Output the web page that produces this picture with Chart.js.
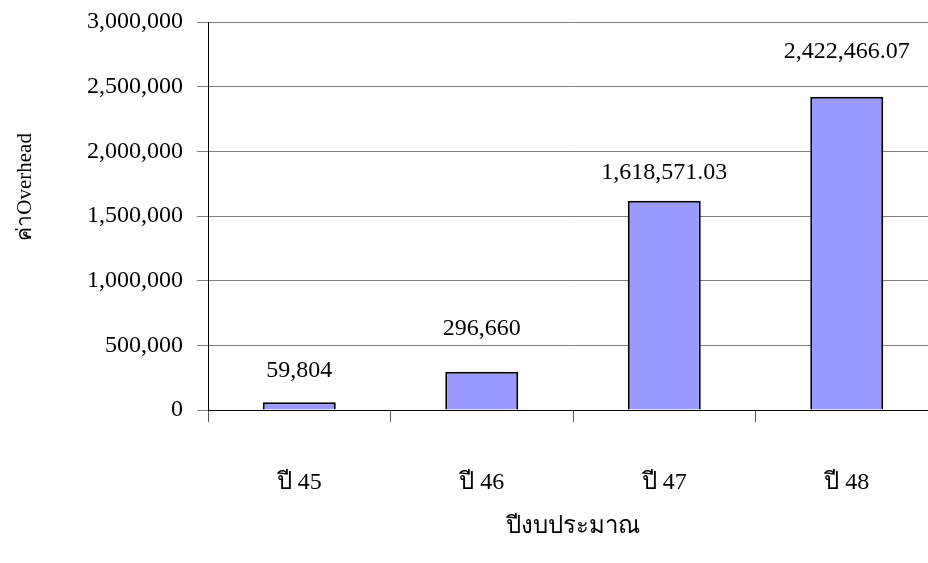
<!DOCTYPE html>
<html>
<head>
<meta charset="utf-8">
<script src="https://cdn.jsdelivr.net/npm/chart.js@4.4.0/dist/chart.umd.min.js"></script>
<style>
  html, body { margin: 0; padding: 0; background: #ffffff; overflow: hidden; width: 928px; height: 563px; }
  #wrap { position: absolute; left: 0; top: 0; width: 945px; height: 563px; }
</style>
</head>
<body>
<div id="wrap"><canvas id="c" width="945" height="563"></canvas></div>
<script>
const categories = ['ปี 45', 'ปี 46', 'ปี 47', 'ปี 48'];
const overheadValues = [59804, 296660, 1618571.03, 2422466.07];
const yTickValues = [0, 500000, 1000000, 1500000, 2000000, 2500000, 3000000];
const xAxisTitle = 'ปีงบประมาณ';
const yAxisTitle = 'ค่าOverhead';

const FONT = "'Liberation Serif', 'Times New Roman', Times, serif";

function fmt(v) {
  const hasFrac = Math.abs(v % 1) > 1e-9;
  return v.toLocaleString('en-US', { minimumFractionDigits: hasFrac ? 2 : 0, maximumFractionDigits: 2 });
}

const valueLabels = {
  id: 'valueLabels',
  afterDatasetsDraw(chart, args, opts) {
    const ctx = chart.ctx;
    const meta = chart.getDatasetMeta(0);
    ctx.save();
    ctx.font = opts.size + 'px ' + FONT;
    ctx.fillStyle = '#000';
    ctx.textAlign = 'center';
    ctx.textBaseline = 'alphabetic';
    meta.data.forEach((bar, i) => {
      const v = chart.data.datasets[0].data[i];
      ctx.fillText(fmt(v), bar.x, bar.y - opts.gaps[i]);
    });
    ctx.restore();
  }
};

const yTitle = {
  id: 'yTitle',
  afterDraw(chart, args, opts) {
    const ctx = chart.ctx;
    const a = chart.chartArea;
    ctx.save();
    ctx.font = opts.size + 'px ' + FONT;
    ctx.fillStyle = '#000';
    ctx.textAlign = 'center';
    ctx.textBaseline = 'middle';
    ctx.translate(opts.x, a.top + (a.bottom - a.top) * opts.frac);
    ctx.rotate(-Math.PI / 2);
    ctx.fillText(opts.text, 0, 0);
    ctx.restore();
  }
};

new Chart(document.getElementById('c'), {
  type: 'bar',
  data: {
    labels: categories,
    datasets: [{
      data: overheadValues,
      backgroundColor: '#9999FF',
      borderColor: '#000000',
      borderWidth: 2,
      borderSkipped: 'bottom',
      barPercentage: 0.4,
      categoryPercentage: 1.0
    }]
  },
  options: {
    responsive: false,
    animation: false,
    layout: { padding: { left: 0, right: 7, top: 22, bottom: 0 } },
    plugins: {
      legend: { display: false },
      tooltip: { enabled: false },
      valueLabels: { size: 24, gaps: [25, 37, 22, 39] },
      yTitle: { text: yAxisTitle, size: 21, x: 25, frac: 0.425 }
    },
    scales: {
      x: {
        offset: true,
        grid: { offset: true, drawOnChartArea: false, drawTicks: true, tickLength: 12, color: '#555555', lineWidth: 1 },
        border: { display: true, color: '#000000', width: 1 },
        ticks: { font: { family: FONT, size: 24 }, color: '#000', padding: 46, maxRotation: 0 },
        title: { display: true, text: xAxisTitle, font: { family: FONT, size: 24 }, color: '#000', padding: { top: 0, bottom: 22 } },
        afterFit(scale) { scale.height = 153; scale.paddingLeft = 0; scale.paddingRight = 0; }
      },
      y: {
        min: 0,
        max: 3000000,
        afterBuildTicks(scale) { scale.ticks = yTickValues.map(v => ({ value: v })); },
        grid: { color: '#808080', lineWidth: 1, tickLength: 11, drawTicks: true },
        border: { display: true, color: '#000000', width: 1 },
        ticks: {
          font: { family: FONT, size: 24 }, color: '#000', padding: 14,
          callback: (v) => Number(v).toLocaleString('en-US')
        },
        afterFit(scale) { scale.width = 208; scale.paddingTop = 0; scale.paddingBottom = 0; }
      }
    }
  },
  plugins: [valueLabels, yTitle]
});
</script>
</body>
</html>
